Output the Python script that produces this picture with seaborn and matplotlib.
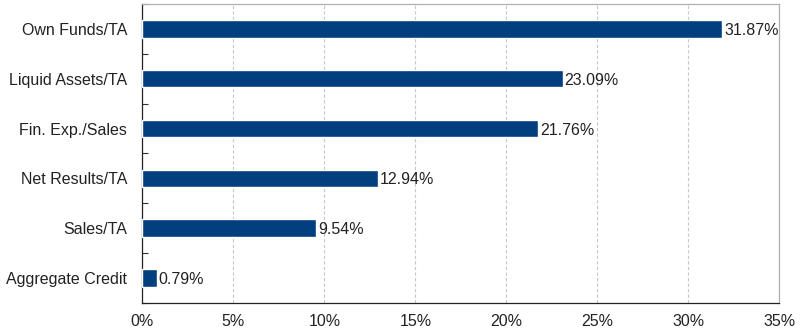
import numpy as np
import pandas as pd
import matplotlib
matplotlib.use("Agg")
import matplotlib.pyplot as plt
import seaborn as sns
from matplotlib.ticker import FixedLocator

categories = ["Own Funds/TA", "Liquid Assets/TA", "Fin. Exp./Sales",
              "Net Results/TA", "Sales/TA", "Aggregate Credit"]
values = [31.87, 23.09, 21.76, 12.94, 9.54, 0.79]
x_ticks = [0, 5, 10, 15, 20, 25, 30, 35]

sns.set_theme(style="white")
plt.rcParams["font.family"] = ["Liberation Sans", "DejaVu Sans"]

df = pd.DataFrame({"indicator": categories, "value": values})

fig = plt.figure(figsize=(8.0, 3.35), dpi=100)
ax = fig.add_axes([0.178, 0.096, 0.796, 0.892])

sns.barplot(data=df, y="indicator", x="value", orient="h",
            color="#023f7e", saturation=1, width=0.35, ax=ax, zorder=3)

fs = 11.5
ax.set_xlim(0, 35)
ax.set_ylim(len(categories) - 0.5, -0.5)
ax.set_xticks(x_ticks)
ax.set_xticklabels([f"{t}%" for t in x_ticks], fontsize=fs, color="#222222")
ax.tick_params(axis="y", which="major", length=0, labelsize=fs,
               labelcolor="#222222", pad=11)
ax.tick_params(axis="x", which="major", length=0, pad=8)
ax.yaxis.set_minor_locator(FixedLocator(np.arange(-0.5, len(categories), 1.0)))
ax.tick_params(axis="y", which="minor", direction="in", length=4,
               width=0.8, color="#333333", left=True)
ax.set_xlabel("")
ax.set_ylabel("")

ax.xaxis.grid(True, linestyle=(0, (3, 2)), color="#c8c8c8", linewidth=0.8, zorder=0)
ax.set_axisbelow(True)

for s in ["left", "bottom"]:
    ax.spines[s].set_color("#222222")
    ax.spines[s].set_linewidth(0.9)
for s in ["top", "right"]:
    ax.spines[s].set_color("#b0b0b0")
    ax.spines[s].set_linewidth(0.9)

for i, v in enumerate(values):
    ax.text(v + 0.1, i, f"{v:.2f}%", va="center_baseline", ha="left",
            fontsize=fs, color="#222222")

fig.savefig("out.png", dpi=100)
